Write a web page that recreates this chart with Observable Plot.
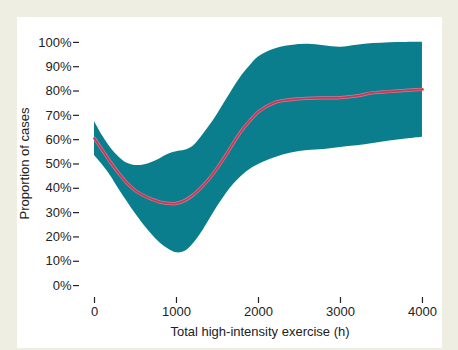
<!DOCTYPE html>
<html>
<head>
<meta charset="utf-8">
<script src="https://cdn.jsdelivr.net/npm/d3@7"></script>
<script src="https://cdn.jsdelivr.net/npm/@observablehq/plot@0.6"></script>
<style>
  html, body { margin: 0; padding: 0; background: #eeeee2; }
  #wrap { position: relative; width: 458px; height: 350px; overflow: hidden; }
  #panel { position: absolute; left: 17px; top: 17px; width: 425px; height: 331px; background: #ffffff; }
  #chart { position: absolute; left: 0; top: 0; }
  svg { font-family: "Liberation Sans", Arial, Helvetica, sans-serif; }
</style>
</head>
<body>
<div id="wrap"><div id="panel"></div><div id="chart"></div></div>
<script>
const hours = [0,100,200,300,400,500,600,700,800,900,1000,1100,1200,1300,1400,1500,1600,1700,1800,1900,2000,2200,2400,2600,2800,3000,3200,3400,3600,3800,4000];
const upper = [67.5,61.5,56.5,52.8,50.3,49.4,49.6,50.6,52.2,54,55,55.6,57.2,61,65.5,70.5,76,81.5,86.5,90.5,94,97.3,98.7,99.2,98.6,98,98.8,99.5,99.9,100,100];
const lower = [53.5,49.5,45,39.5,34.5,29.5,25,21,17.5,15,13.5,14,17,21.5,27,32.5,37.5,41.8,45.2,47.8,49.8,52.6,54.5,55.5,56,56.8,57.5,58.4,59.5,60.3,61];
const mean  = [60.5,55.5,50.5,46,42,39,37,35.5,34.3,33.8,33.8,35,37.2,40.3,44,48.5,53.5,59,64,68,71.5,75.3,76.5,77,77.2,77.3,78,79.3,79.8,80.3,80.7];
const xTicks = [0,1000,2000,3000,4000];
const yTicks = [0,0.1,0.2,0.3,0.4,0.5,0.6,0.7,0.8,0.9,1.0];
const xLabel = "Total high-intensity exercise (h)";
const yLabel = "Proportion of cases";

const data = hours.map((h, i) => ({h, lo: lower[i] / 100, hi: upper[i] / 100, m: mean[i] / 100}));

const chart = Plot.plot({
  width: 458,
  height: 350,
  marginLeft: 79,
  marginRight: 18,
  marginTop: 29,
  marginBottom: 53,
  style: {background: "transparent", fontSize: "13px", color: "#222"},
  x: {domain: [-183, 4220]},
  y: {domain: [-0.049, 1.053]},
  marks: [
    Plot.areaY(data, {x: "h", y1: "lo", y2: "hi", fill: "#0a7e8c", curve: "catmull-rom"}),
    Plot.lineY(data, {x: "h", y: "m", stroke: "#d97a90", strokeWidth: 3.2, curve: "catmull-rom"}),
    Plot.lineY(data, {x: "h", y: "m", stroke: "#c23a5a", strokeWidth: 1.8, curve: "catmull-rom"}),
    Plot.axisX({ticks: xTicks, tickFormat: d3.format("d"), tickSize: 6, tickPadding: 3, line: true, label: xLabel, labelAnchor: "center", labelArrow: false, labelOffset: 38, stroke: "#222", strokeWidth: 1.2}),
    Plot.axisY({ticks: yTicks, tickFormat: d3.format(".0%"), tickSize: 6, tickPadding: 2, line: true, label: yLabel, labelAnchor: "center", labelArrow: false, labelOffset: 60, stroke: "#222", strokeWidth: 1.2})
  ]
});
document.getElementById("chart").appendChild(chart);
</script>
</body>
</html>
